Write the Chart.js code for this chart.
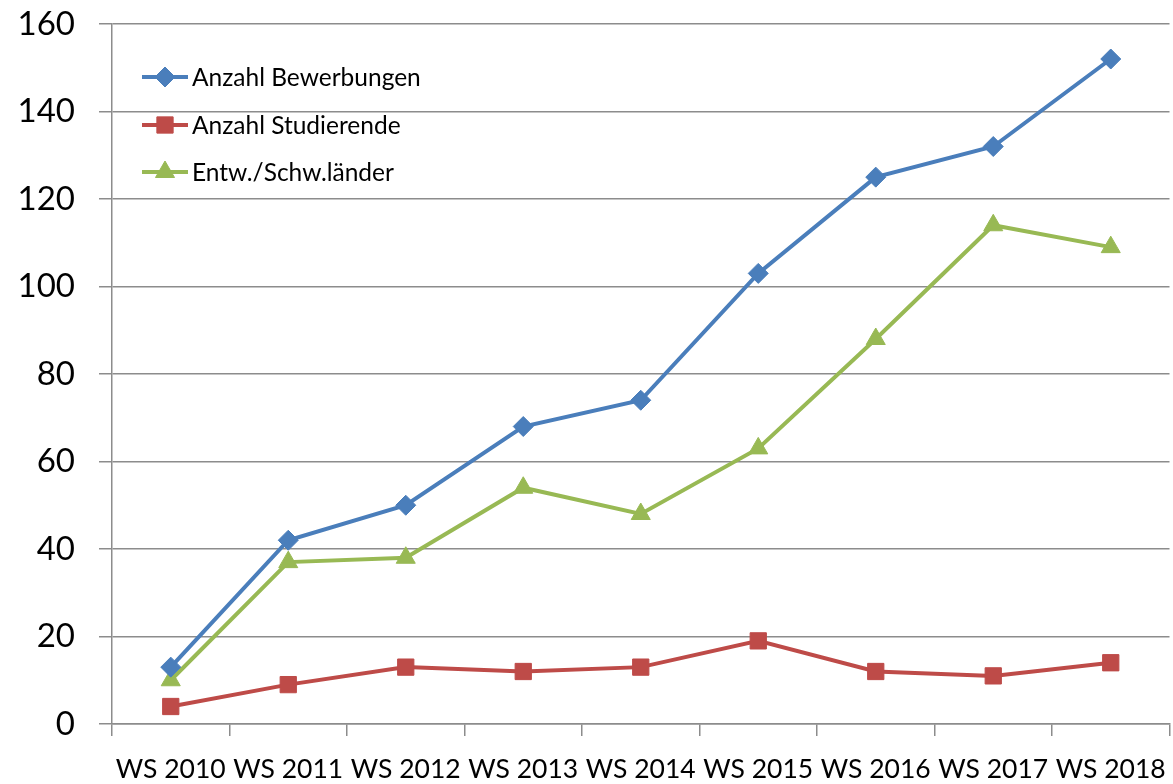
<!DOCTYPE html>
<html>
<head>
<meta charset="utf-8">
<script src="https://cdn.jsdelivr.net/npm/chart.js@4.4.1/dist/chart.umd.min.js"></script>
<style>
  html, body { margin: 0; padding: 0; background: #fff; overflow: hidden; }
  #wrap { width: 1173px; height: 784px; position: relative; overflow: hidden; }
  #c { display: block; }
</style>
</head>
<body>
<div id="wrap"><canvas id="c" width="1182" height="784"></canvas></div>
<script>
const categories = ["WS 2010","WS 2011","WS 2012","WS 2013","WS 2014","WS 2015","WS 2016","WS 2017","WS 2018"];
const bewerbungen = [13, 42, 50, 68, 74, 103, 125, 132, 152];
const studierende = [4, 9, 13, 12, 13, 19, 12, 11, 14];
const entwSchw = [10, 37, 38, 54, 48, 63, 88, 114, 109];
const seriesNames = ["Anzahl Bewerbungen", "Anzahl Studierende", "Entw./Schw.länder"];
const yTicks = [0, 20, 40, 60, 80, 100, 120, 140, 160];

const FONT = "Lato, 'Open Sans', sans-serif";

const legendPlugin = {
  id: 'insideLegend',
  afterDatasetsDraw(chart) {
    const ctx = chart.ctx;
    const x0 = 142, x1 = 188, tx = 192;
    const ys = [77, 125, 172];
    chart.data.datasets.forEach((ds, i) => {
      const y = ys[i];
      ctx.save();
      ctx.strokeStyle = ds.borderColor;
      ctx.lineWidth = ds.borderWidth;
      ctx.beginPath();
      ctx.moveTo(x0, y);
      ctx.lineTo(x1, y);
      ctx.stroke();
      ctx.fillStyle = ds.borderColor;
      ctx.strokeStyle = ds.borderColor;
      ctx.lineWidth = 1;
      Chart.helpers.drawPoint(ctx, {
        pointStyle: ds.pointStyle,
        radius: ds.pointRadius,
        rotation: 0,
        borderWidth: 1
      }, (x0 + x1) / 2, y);
      ctx.fillStyle = '#000';
      ctx.font = "24.5px " + FONT;
      ctx.textBaseline = 'middle';
      ctx.textAlign = 'left';
      ctx.fillText(seriesNames[i], tx, y + 1);
      ctx.restore();
    });
  }
};

function mk(label, data, color, style, radius) {
  return {
    label, data,
    borderColor: color,
    backgroundColor: color,
    pointBackgroundColor: color,
    pointBorderColor: color,
    borderWidth: 4,
    pointStyle: style,
    pointRadius: radius,
    pointHoverRadius: radius,
    pointBorderWidth: 1,
    tension: 0,
    fill: false
  };
}

new Chart(document.getElementById('c'), {
  type: 'line',
  data: {
    labels: categories,
    datasets: [
      mk(seriesNames[0], bewerbungen, '#4A7EBB', 'rectRot', 10),
      mk(seriesNames[1], studierende, '#BE4B48', 'rect', 11.5),
      mk(seriesNames[2], entwSchw, '#98B954', 'triangle', 11)
    ]
  },
  options: {
    responsive: false,
    animation: false,
    devicePixelRatio: 1,
    layout: { padding: { top: 24, right: 4, left: 0, bottom: 0 } },
    plugins: {
      legend: { display: false },
      tooltip: { enabled: false }
    },
    scales: {
      x: {
        offset: true,
        grid: {
          offset: true,
          drawOnChartArea: false,
          drawTicks: true,
          tickLength: 12,
          color: '#8c8c8c',
          lineWidth: 1.5
        },
        border: { display: true, color: '#8c8c8c', width: 1.5 },
        ticks: {
          color: '#000',
          font: { family: FONT, size: 26.5, lineHeight: 2.26 },
          padding: 4,
          maxRotation: 0,
          autoSkip: false
        },
        afterFit(s) { s.height = 60; }
      },
      y: {
        min: 0, max: 160,
        afterBuildTicks(s) { s.ticks = yTicks.map(v => ({ value: v })); },
        grid: {
          color: '#8c8c8c',
          lineWidth: 1.5,
          drawTicks: true,
          tickLength: 13
        },
        border: { display: true, color: '#8c8c8c', width: 1.5 },
        ticks: {
          color: '#000',
          font: { family: FONT, size: 33 },
          padding: 24
        },
        afterFit(s) { s.width = 112; s.paddingTop = 0; s.paddingBottom = 0; }
      }
    }
  },
  plugins: [legendPlugin]
});
</script>
</body>
</html>
